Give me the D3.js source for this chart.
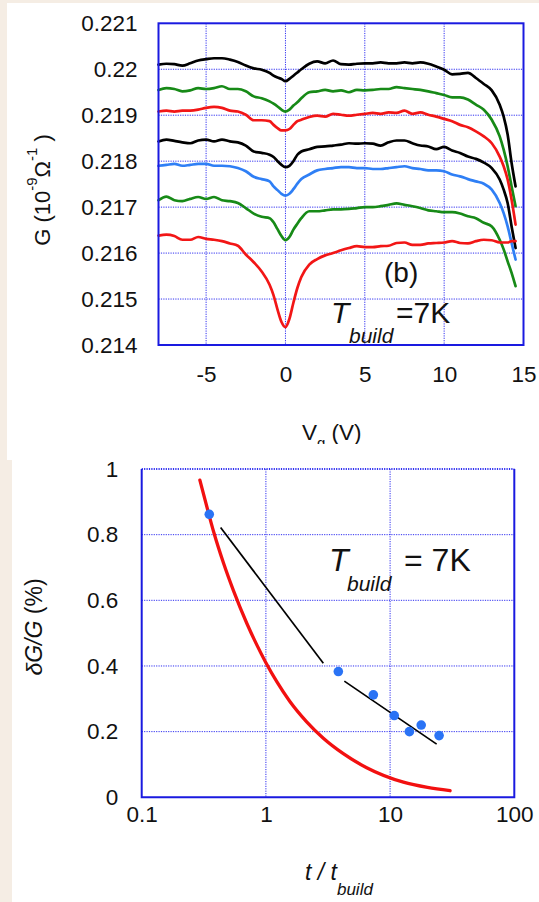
<!DOCTYPE html>
<html><head><meta charset="utf-8">
<script src="https://cdn.jsdelivr.net/npm/d3@7"></script>
<style>
html,body{margin:0;padding:0;background:#f5ede4;}
svg{display:block;}
text{font-family:"Liberation Sans",Arial,Helvetica,sans-serif;fill:#111;}
</style></head><body>
<svg id="c" width="539" height="902"></svg>
<script>
// ---------- Panel (b): G vs Vg ----------
const gateVoltage = [-8,-7.5,-7,-6.5,-6,-5.5,-5,-4.5,-4,-3.5,-3,-2.5,-2,-1.5,
  -1,-0.75,-0.5,-0.25,0,0.25,0.5,0.75,1,
  1.5,2,2.5,3,3.5,4,4.5,5,5.5,6,6.5,7,7.5,8,8.5,9,9.5,10,10.5,11,11.5,12,12.5,13,13.5,
  13.75,14,14.25,14.5];
const curve1Black = [0.22010,0.22012,0.22011,0.22008,0.22013,0.22019,0.22022,0.22024,0.22024,0.22021,0.22016,0.22008,0.22002,0.21999,
  0.21992,0.21986,0.21982,0.21979,0.21974,0.21979,0.21986,0.21993,0.22000,
  0.22012,0.22017,0.22013,0.22019,0.22011,0.22010,0.22012,0.22013,0.22013,0.22015,0.22013,0.22013,0.22015,0.22013,0.22015,0.22012,0.22006,0.21999,0.21989,0.21990,0.21992,0.21981,0.21968,0.21954,0.21923,
  0.21897,0.21858,0.21796,0.21745];
const curve2Green = [0.21955,0.21959,0.21957,0.21952,0.21954,0.21959,0.21957,0.21959,0.21963,0.21957,0.21957,0.21952,0.21941,0.21937,
  0.21930,0.21925,0.21919,0.21912,0.21908,0.21912,0.21921,0.21928,0.21937,
  0.21950,0.21952,0.21955,0.21952,0.21954,0.21950,0.21955,0.21954,0.21955,0.21957,0.21957,0.21961,0.21959,0.21957,0.21955,0.21952,0.21948,0.21944,0.21939,0.21939,0.21934,0.21923,0.21912,0.21890,0.21854,
  0.21825,0.21789,0.21745,0.21702];
const curve3Red = [0.21908,0.21910,0.21908,0.21910,0.21910,0.21912,0.21916,0.21918,0.21916,0.21910,0.21908,0.21901,0.21889,0.21889,
  0.21887,0.21879,0.21872,0.21867,0.21867,0.21870,0.21879,0.21887,0.21890,
  0.21896,0.21899,0.21897,0.21903,0.21901,0.21899,0.21901,0.21903,0.21905,0.21903,0.21906,0.21905,0.21910,0.21903,0.21906,0.21901,0.21897,0.21892,0.21887,0.21879,0.21874,0.21865,0.21854,0.21839,0.21810,
  0.21789,0.21760,0.21716,0.21662];
const curve4Black = [0.21843,0.21847,0.21844,0.21841,0.21839,0.21845,0.21847,0.21843,0.21847,0.21843,0.21841,0.21834,0.21821,0.21818,
  0.21814,0.21809,0.21800,0.21792,0.21787,0.21790,0.21800,0.21814,0.21821,
  0.21826,0.21831,0.21832,0.21834,0.21836,0.21839,0.21838,0.21839,0.21838,0.21834,0.21841,0.21845,0.21845,0.21839,0.21834,0.21832,0.21826,0.21831,0.21823,0.21818,0.21810,0.21805,0.21797,0.21785,0.21760,
  0.21738,0.21709,0.21658,0.21611];
const curve5Blue = [0.21790,0.21792,0.21794,0.21790,0.21792,0.21794,0.21794,0.21790,0.21790,0.21789,0.21785,0.21778,0.21766,0.21761,
  0.21756,0.21745,0.21737,0.21729,0.21725,0.21729,0.21739,0.21751,0.21761,
  0.21771,0.21780,0.21783,0.21785,0.21787,0.21787,0.21785,0.21785,0.21783,0.21783,0.21785,0.21787,0.21789,0.21785,0.21783,0.21780,0.21780,0.21778,0.21771,0.21767,0.21761,0.21756,0.21751,0.21738,0.21709,
  0.21687,0.21658,0.21622,0.21586];
const curve6Green = [0.21715,0.21723,0.21715,0.21713,0.21718,0.21722,0.21718,0.21722,0.21715,0.21713,0.21709,0.21698,0.21686,0.21679,
  0.21676,0.21667,0.21652,0.21637,0.21628,0.21635,0.21651,0.21664,0.21676,
  0.21691,0.21691,0.21693,0.21695,0.21695,0.21696,0.21698,0.21700,0.21700,0.21702,0.21705,0.21708,0.21705,0.21702,0.21698,0.21693,0.21691,0.21689,0.21689,0.21686,0.21680,0.21676,0.21666,0.21658,0.21629,
  0.21608,0.21582,0.21557,0.21528];
const curve7Red = [0.21638,0.21640,0.21637,0.21629,0.21629,0.21635,0.21631,0.21629,0.21626,0.21621,0.21616,0.21597,0.21580,0.21560,
  0.21531,0.21508,0.21477,0.21450,0.21439,0.21457,0.21492,0.21524,0.21548,
  0.21575,0.21587,0.21595,0.21600,0.21606,0.21611,0.21615,0.21613,0.21613,0.21615,0.21616,0.21622,0.21623,0.21618,0.21618,0.21621,0.21622,0.21623,0.21626,0.21622,0.21621,0.21626,0.21629,0.21628,0.21623,
  0.21623,0.21623,0.21626,0.21626];
const curveColors = ["#000000","#178a17","#f21616","#000000","#2f7ff5","#178a17","#f21616"];
const gYTicks = [0.214,0.215,0.216,0.217,0.218,0.219,0.220,0.221];
const gYTickLabels = ["0.214","0.215","0.216","0.217","0.218","0.219","0.22","0.221"];
const gXTicks = [-5,0,5,10,15];
const gXTickLabels = ["-5","0","5","10","15"];

// ---------- Lower panel: dG/G vs t/t_build ----------
const tRatio  = [0.35,3.83,7.33,10.8,14.3,17.8,24.8];
const dGoverG = [0.862,0.383,0.312,0.249,0.200,0.220,0.188];
const fit1T = [0.432,2.90], fit1Y = [0.822,0.408];
const fit2T = [4.28,23.7],  fit2Y = [0.354,0.162];
const modelT = [0.294,0.35,0.38,0.457,0.55,0.70,0.843,1.0,1.22,1.56,2.13,2.90,4.2,6.48,12.8,20,30.4];
const modelY = [0.966,0.857,0.808,0.712,0.628,0.531,0.465,0.410,0.353,0.292,0.230,0.180,0.133,0.090,0.046,0.030,0.020];
const bXTicks = [0.1,1,10,100];
const bXTickLabels = ["0.1","1","10","100"];
const bYTicks = [0,0.2,0.4,0.6,0.8,1];
const bYTickLabels = ["0","0.2","0.4","0.6","0.8","1"];

const FRAME = "#1a1ae0", GRID = "#2f2ff0";
const svg = d3.select("#c");
svg.append("rect").attr("width",539).attr("height",902).attr("fill","#f5ede4");
svg.append("rect").attr("x",7).attr("y",3).attr("width",532).attr("height",457).attr("fill","#fff");

// ===== top chart =====
const T = {l:158.5, r:523.5, t:23.3, b:345};
const xg = d3.scaleLinear().domain([-8,15]).range([T.l,T.r]);
const yg = d3.scaleLinear().domain([0.214,0.221]).range([T.b,T.t]);
const topG = svg.append("g");
topG.append("g").selectAll("line").data(gXTicks.filter(v=>v>-8&&v<15)).join("line")
  .attr("x1",d=>xg(d)).attr("x2",d=>xg(d)).attr("y1",T.t).attr("y2",T.b)
  .attr("stroke",GRID).attr("stroke-width",1).attr("stroke-dasharray","1.2,1.2");
topG.append("g").selectAll("line").data(gYTicks.filter(v=>v>0.214&&v<0.221)).join("line")
  .attr("x1",T.l).attr("x2",T.r).attr("y1",d=>yg(d)).attr("y2",d=>yg(d))
  .attr("stroke",GRID).attr("stroke-width",1).attr("stroke-dasharray","1.2,1.2");
const gSeries = [curve1Black,curve2Green,curve3Red,curve4Black,curve5Blue,curve6Green,curve7Red];
const gLine = d3.line().x(d=>xg(d[0])).y(d=>yg(d[1])).curve(d3.curveMonotoneX);
gSeries.forEach((s,i)=>{
  topG.append("path").datum(gateVoltage.map((v,j)=>[v,s[j]]))
    .attr("d",gLine).attr("fill","none").attr("stroke",curveColors[i])
    .attr("stroke-width",2.7).attr("stroke-linejoin","round").attr("stroke-linecap","round");
});
topG.append("rect").attr("x",T.l).attr("y",T.t).attr("width",T.r-T.l).attr("height",T.b-T.t)
  .attr("fill","none").attr("stroke",FRAME).attr("stroke-width",2);
const gyAxis = topG.append("g").attr("transform",`translate(${T.l},0)`)
  .call(d3.axisLeft(yg).tickValues(gYTicks).tickFormat((d,i)=>gYTickLabels[i]).tickSize(0).tickPadding(21));
const gxAxis = topG.append("g").attr("transform",`translate(0,${T.b})`)
  .call(d3.axisBottom(xg).tickValues(gXTicks).tickFormat((d,i)=>gXTickLabels[i]).tickSize(0).tickPadding(21));
[gyAxis,gxAxis].forEach(a=>{a.select(".domain").remove();
  a.selectAll("text").attr("font-size",22.5).attr("font-family","Liberation Sans, Arial, sans-serif").attr("fill","#111");});
const yt = topG.append("text").attr("transform","translate(50,190) rotate(-90)")
  .attr("text-anchor","middle").attr("font-size",22);
yt.append("tspan").text("G (10");
yt.append("tspan").attr("font-size",15).attr("dy",-13).text("-9");
yt.append("tspan").attr("dy",13).text("Ω");
yt.append("tspan").attr("font-size",15).attr("dy",-13).text("-1");
yt.append("tspan").attr("dy",13).text(" )");
const xt = topG.append("text").attr("x",302).attr("y",440).attr("font-size",22.5);
xt.append("tspan").text("V");
xt.append("tspan").attr("font-size",15).attr("dy",8).text("g");
xt.append("tspan").attr("dy",-8).text(" (V)");
topG.append("text").attr("x",384).attr("y",282).attr("font-size",28).text("(b)");
topG.append("text").attr("x",331).attr("y",323).attr("font-size",30).attr("font-style","italic").text("T");
topG.append("text").attr("x",349).attr("y",343).attr("font-size",21).attr("font-style","italic").text("build");
topG.append("text").attr("x",396).attr("y",323).attr("font-size",30).text("=7K");

// ===== bottom chart =====
svg.append("rect").attr("x",12).attr("y",444).attr("width",527).attr("height",458).attr("fill","#fff");
const B = {l:141.7, r:514.3, t:469, b:797.3};
const xb = d3.scaleLog().domain([0.1,100]).range([B.l,B.r]);
const yb = d3.scaleLinear().domain([0,1]).range([B.b,B.t]);
const bot = svg.append("g");
bot.append("g").selectAll("line").data(bXTicks.filter(v=>v>0.1&&v<100)).join("line")
  .attr("x1",d=>xb(d)).attr("x2",d=>xb(d)).attr("y1",B.t).attr("y2",B.b)
  .attr("stroke",GRID).attr("stroke-width",1).attr("stroke-dasharray","1.2,1.2");
bot.append("g").selectAll("line").data(bYTicks.filter(v=>v>0)).join("line")
  .attr("x1",B.l).attr("x2",B.r).attr("y1",d=>yb(d)).attr("y2",d=>yb(d))
  .attr("stroke",GRID).attr("stroke-width",d=>d===1?2:1).attr("stroke-dasharray","1.2,1.2");
bot.append("path").attr("d",`M${B.l},${B.t}V${B.b}H${B.r}V${B.t}`)
  .attr("fill","none").attr("stroke",FRAME).attr("stroke-width",2);
const mLine = d3.line().x(d=>xb(d[0])).y(d=>yb(d[1])).curve(d3.curveMonotoneX);
bot.append("path").datum(modelT.map((t,i)=>[t,modelY[i]])).attr("d",mLine)
  .attr("fill","none").attr("stroke","#f21010").attr("stroke-width",3.3).attr("stroke-linecap","round");
[[fit1T,fit1Y],[fit2T,fit2Y]].forEach(([ft,fy])=>{
  bot.append("path").datum(ft.map((t,i)=>[t,fy[i]])).attr("d",d3.line().x(d=>xb(d[0])).y(d=>yb(d[1])))
    .attr("fill","none").attr("stroke","#000").attr("stroke-width",1.7);
});
bot.append("g").selectAll("circle").data(tRatio.map((t,i)=>[t,dGoverG[i]])).join("circle")
  .attr("cx",d=>xb(d[0])).attr("cy",d=>yb(d[1])).attr("r",4.8).attr("fill","#2a73f5");
const byAxis = bot.append("g").attr("transform",`translate(${B.l},0)`)
  .call(d3.axisLeft(yb).tickValues(bYTicks).tickFormat((d,i)=>bYTickLabels[i]).tickSize(0).tickPadding(23.5));
const bxAxis = bot.append("g").attr("transform",`translate(0,${B.b})`)
  .call(d3.axisBottom(xb).tickValues(bXTicks).tickFormat((d,i)=>bXTickLabels[i]).tickSize(0).tickPadding(9));
[byAxis,bxAxis].forEach(a=>{a.select(".domain").remove();
  a.selectAll("text").attr("font-size",22.5).attr("font-family","Liberation Sans, Arial, sans-serif").attr("fill","#111");});
const byt = bot.append("text").attr("transform","translate(42,627) rotate(-90)")
  .attr("text-anchor","middle").attr("font-size",23);
byt.append("tspan").attr("font-style","italic").text("δG/G");
byt.append("tspan").text(" (%)");
const bxt = bot.append("text").attr("x",305).attr("y",880).attr("font-size",23).attr("font-style","italic");
bxt.append("tspan").text("t / t");
bxt.append("tspan").attr("font-size",17).attr("dy",15).text("build");
bot.append("text").attr("x",329).attr("y",571).attr("font-size",32).attr("font-style","italic").text("T");
bot.append("text").attr("x",347).attr("y",591).attr("font-size",21).attr("font-style","italic").text("build");
bot.append("text").attr("x",404).attr("y",571).attr("font-size",32).text("= 7K");
</script>
</body></html>
